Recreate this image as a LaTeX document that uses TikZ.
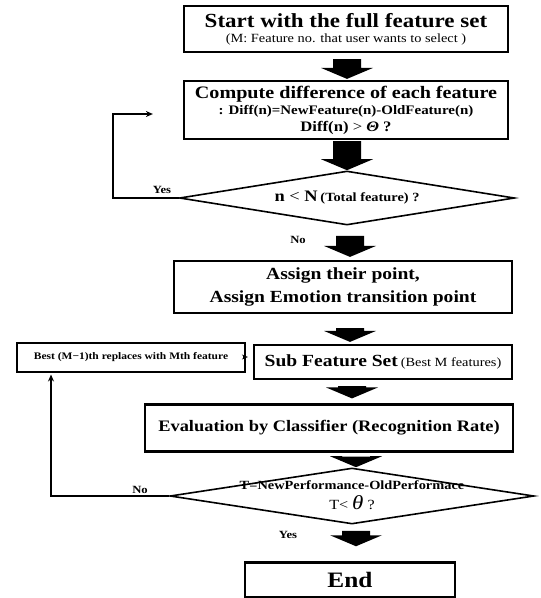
\documentclass[tikz,border=0pt]{standalone}
\usepackage{fontspec}
\setmainfont{Liberation Serif}[FakeStretch=1.15]
\usetikzlibrary{shapes.geometric,calc,arrows.meta}
\newcommand\blockarrow[5]{% #1 x, #2 from node, #3 top gap, #4 to node, #5 bottom gap
  \fill let \p1=(#2.south), \p2=(#4.north) in
  (#1pt-14pt,\y1-#3pt) -- (#1pt+14pt,\y1-#3pt) -- (#1pt+14pt,\y2+#5pt+11pt) --
  (#1pt+26pt,\y2+#5pt+11pt) -- (#1pt,\y2+#5pt) -- (#1pt-26pt,\y2+#5pt+11pt) --
  (#1pt-14pt,\y2+#5pt+11pt) -- cycle;}
\newcommand\fs[1]{\fontsize{#1}{#1}\selectfont}
\begin{document}
\begin{tikzpicture}[x=1pt,y=-1pt,
  box/.style={draw,line width=2.2pt,rectangle,align=center,inner sep=0pt,font=\bfseries},
  dia/.style={draw,line width=1.6pt,diamond,inner sep=0pt,aspect=6},
  lbl/.style={font=\bfseries\fs{11},inner sep=0pt},
  fb/.style={line width=2pt,-{Stealth[length=7pt,width=6pt]}},
]
\useasboundingbox (0,0) rectangle (541,598);

\node[box,minimum width=324,minimum height=46] (start) at (346,29)
  {{\fs{20}Start with the full feature set}\\[3pt]
   {\mdseries\fs{12.5}(M: Feature no. that user wants to select )}};

\node[box,minimum width=324,minimum height=58] (compute) at (346,110)
  {{\fs{17.5}Compute difference of each feature}\\[2pt]
   {\fs{13}: Diff(n)=NewFeature(n)-OldFeature(n)}\\[3pt]
   {\fs{14.5}Diff(n) {\mdseries>} \textit{Θ} ?}};

\node[dia,minimum width=335,minimum height=54] (d1) at (347,198) {};
\node[font=\bfseries,inner sep=0pt] (d1t) at (d1.center)
  {{\fs{16}n {\mdseries<} N} {\fs{12.5}(Total feature) ?}};

\node[box,minimum width=338,minimum height=52,font=\bfseries\fs{17}] (assign) at (343,287)
  {Assign their point,\\[6pt] Assign Emotion transition point};

\node[box,minimum width=258,minimum height=34] (sub) at (383,362)
  {{\fs{17}Sub Feature Set} {\mdseries\fs{12.5}(Best M features)}};

\node[box,line width=2pt,minimum width=228,minimum height=29,font=\bfseries\fs{10}] (best) at (131,357)
  {Best (M−1)th replaces with Mth feature};

\node[box,minimum width=368,minimum height=47,font=\bfseries\fs{16}] (eval) at (329,428)
  {Evaluation by Classifier (Recognition Rate)};

\node[dia,minimum width=364,minimum height=56] (d2) at (352,496) {};
\node[font=\bfseries,inner sep=0pt,align=center] (d2t) at ($(d2.center)+(0,-1)$)
  {{\fs{12.5}T=NewPerformance-OldPerformace}\\[5pt]
   {\mdseries\fs{14}T< {\fs{20}\textit{θ}} ?}};

\node[box,line width=2.5pt,minimum width=210,minimum height=35,font=\bfseries\fs{22}] (end) at (350,580)
  {End};

% block arrows
\blockarrow{347}{start}{6}{compute}{1}
\blockarrow{347}{compute}{1}{d1}{0}
\blockarrow{350}{d1}{10}{assign}{3}
\blockarrow{350}{assign}{14}{sub}{2}
\blockarrow{352}{sub}{6}{eval}{5}
\blockarrow{356}{eval}{4}{d2}{0}
\blockarrow{356}{d2}{6}{end}{15}

% labels
\node[lbl] (yes1) at (162,190) {Yes};
\node[lbl] (no1) at (298,240) {No};
\node[lbl] (no2) at (140,490) {No};
\node[lbl] (yes2) at (288,535) {Yes};

% feedback connectors
\coordinate (fb1) at ($(compute.west)+(-30,4)$);
\draw[fb] (d1.west) -- ++(-66,0) |- (fb1);
\coordinate (fb2) at ($(best.south west)+(35,2)$);
\draw[fb] (d2.west) -| (fb2);
\draw[line width=1.5pt,-{Stealth[length=6pt,width=5pt]},shorten <=3pt,shorten >=5pt]
  (best.east) -- (best.east -| sub.west);
\end{tikzpicture}
\end{document}
